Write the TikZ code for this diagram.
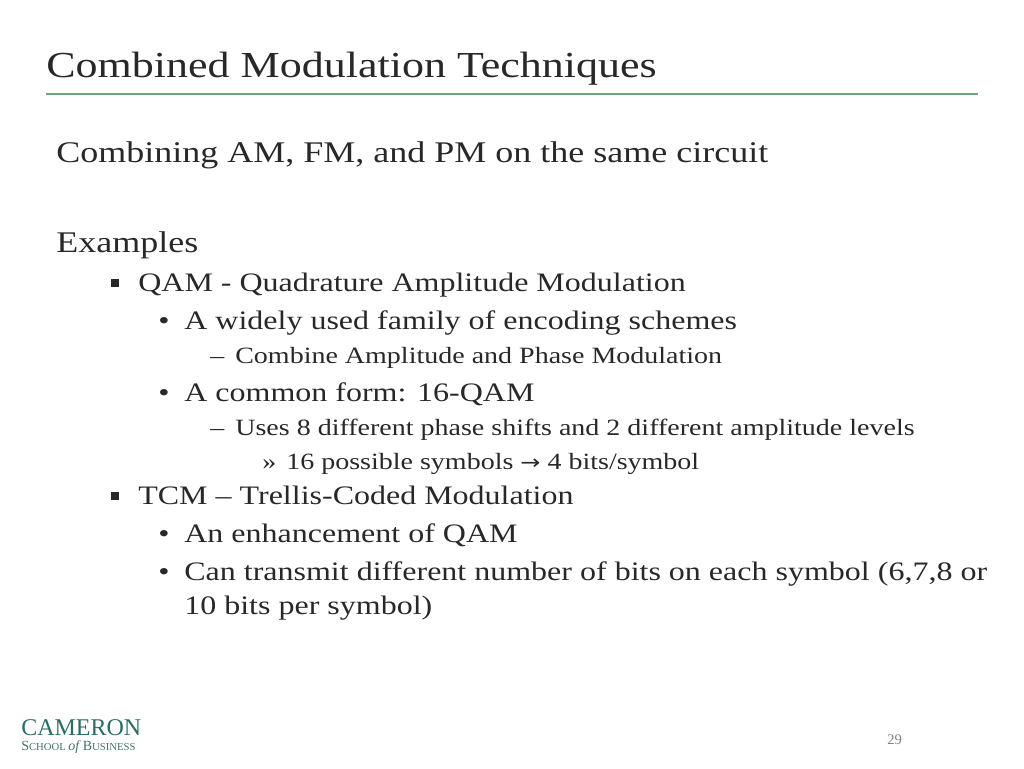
\documentclass[tikz,border=0pt]{standalone}
\usepackage{fontspec}
\setmainfont{Liberation Serif}
\newfontfamily\dv{DejaVu Sans}
\definecolor{ttl}{RGB}{40,40,40}
\definecolor{grn}{RGB}{110,165,120}
\definecolor{cam}{RGB}{40,110,100}
\begin{document}
\begin{tikzpicture}[x=0.75pt,y=-0.75pt,
  t/.style={anchor=base west,inner sep=0,text=ttl},
  w/.style={xscale=1.2,transform shape},
  l1/.style={t,w,font=\fontsize{22.5}{22}\selectfont},
  l2/.style={t,w,font=\fontsize{20}{20}\selectfont},
  l3/.style={t,w,font=\fontsize{17.5}{18}\selectfont}]
\useasboundingbox (0,0) rectangle (1024,768);
\node[t,w,font=\fontsize{27.5}{27}\selectfont] (title) at (46,77) {Combined Modulation Techniques};
\draw[grn,line width=1.5pt] (46,94) -- (978,94);
\node[l1] (a) at (56,162) {Combining AM, FM, and PM on the same circuit};
\node[l1] (b) at (56,252) {Examples};
\fill[ttl] (111,279) rectangle (119,287);
\node[l2] (c) at (138,291) {QAM - Quadrature Amplitude Modulation};
\node[l2] at (158,329) {•}; \node[l2] (d) at (184,329) {A widely used family of encoding schemes};
\node[l3] at (210,363) {–}; \node[l3] (e) at (235,363) {Combine Amplitude and Phase Modulation};
\node[l2] at (158,401) {•}; \node[l2] (f) at (184,401) {A common form: 16-QAM};
\node[l3] at (210,435) {–}; \node[l3] (g) at (235,435) {Uses 8 different phase shifts and 2 different amplitude levels};
\node[l3] at (262,469) {»}; \node[l3] (h) at (286,469) {16 possible symbols {\dv\fontsize{15}{15}\selectfont →} 4 bits/symbol};
\fill[ttl] (111,492) rectangle (119,500);
\node[l2] (i) at (138,504) {TCM – Trellis-Coded Modulation};
\node[l2] at (158,542) {•}; \node[l2] (j) at (184,542) {An enhancement of QAM};
\node[l2] at (158,580) {•}; \node[l2] (k) at (184,580) {Can transmit different number of bits on each symbol (6,7,8 or};
\node[l2] (k2) at (184,614) {10 bits per symbol)};
\node[t,text=gray,font=\fontsize{11}{11}\selectfont] (n) at (887,744) {29};
\node[t,text=cam,font=\fontsize{18}{18}\selectfont] (logo1) at (21,735) {CAMERON};
\node[t,text=cam!70!gray,font=\fontsize{10.5}{10.5}\selectfont] (logo2) at (21,750) {S\fontsize{8}{8}\selectfont CHOOL \fontsize{10.5}{10.5}\selectfont\itshape of \upshape B\fontsize{8}{8}\selectfont USINESS};
\end{tikzpicture}
\end{document}
